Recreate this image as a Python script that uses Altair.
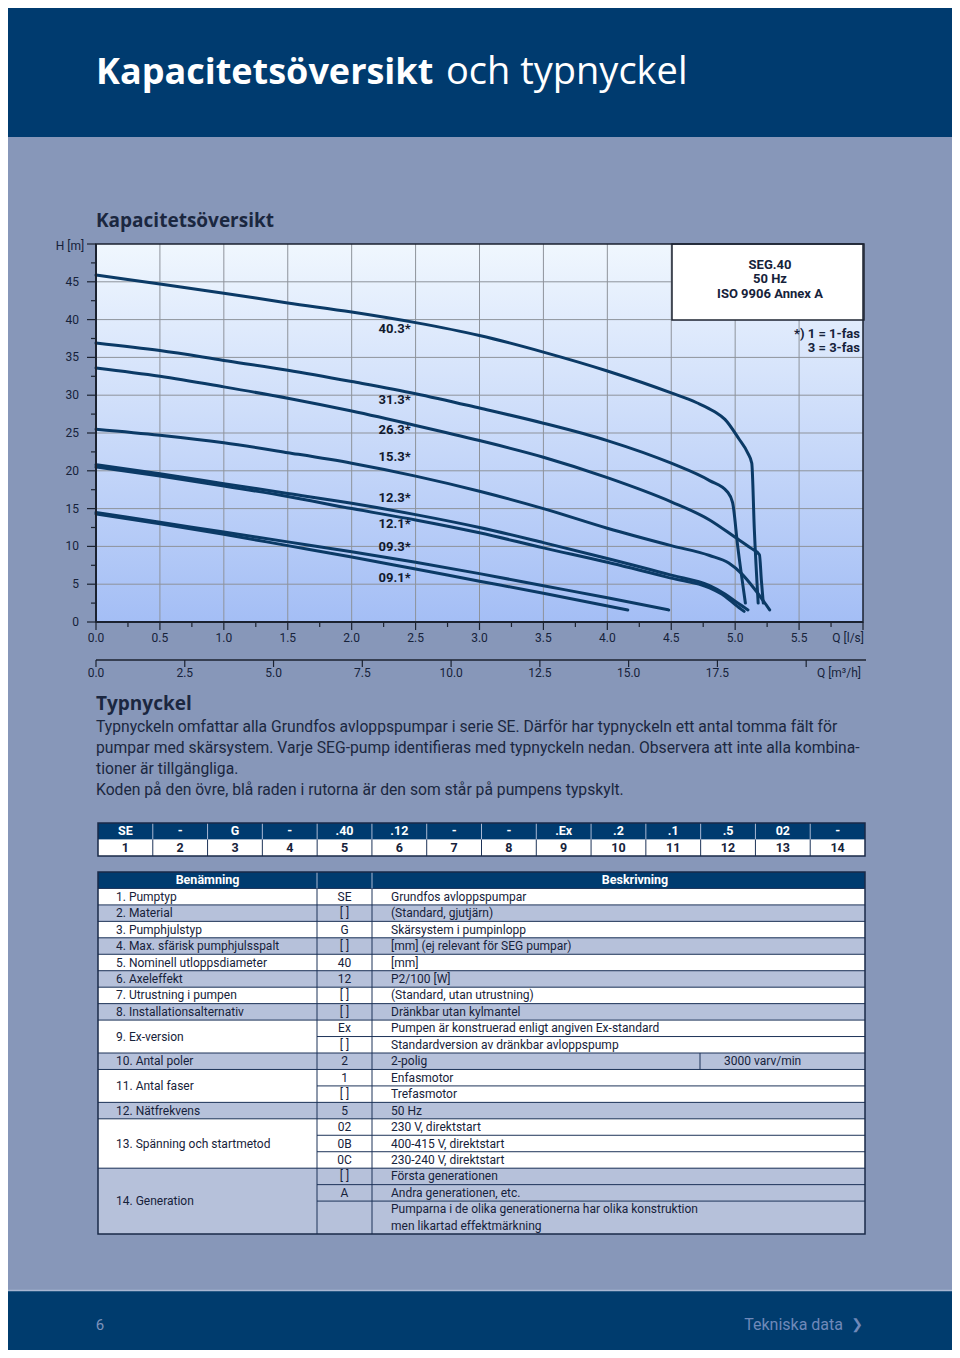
import altair as alt
import pandas as pd

# ---------------- data ----------------
CURVE_LABELS = ["40.3*", "31.3*", "26.3*", "15.3*", "12.3*", "12.1*", "09.3*", "09.1*"]

Q_403 = [0.0, 0.5, 1.0, 1.5, 2.0, 2.5, 3.0, 3.5, 4.0, 4.5, 4.7, 4.84, 4.92, 5.03, 5.10, 5.13, 5.15, 5.18]
H_403 = [45.9, 44.7, 43.5, 42.2, 41.0, 39.6, 37.9, 35.7, 33.2, 30.3, 29.0, 27.8, 26.8, 24.2, 22.3, 21.0, 12.2, 2.5]

Q_313 = [0.0, 0.5, 1.0, 1.5, 2.0, 2.5, 3.0, 3.5, 4.0, 4.5, 4.8, 4.94, 4.98, 5.02, 5.08]
H_313 = [36.9, 35.9, 34.6, 33.3, 31.8, 30.2, 28.3, 26.3, 24.0, 21.0, 18.7, 17.2, 15.8, 10.0, 2.5]

Q_263 = [0.0, 0.5, 1.0, 1.5, 2.0, 2.5, 3.0, 3.5, 4.0, 4.5, 4.8, 5.0, 5.12, 5.19, 5.205, 5.22]
H_263 = [33.6, 32.5, 31.1, 29.6, 27.9, 26.0, 24.0, 21.8, 19.1, 15.9, 13.5, 11.2, 9.8, 8.9, 5.5, 2.5]

Q_153 = [0.0, 0.5, 1.0, 1.5, 2.0, 2.5, 3.0, 3.5, 4.0, 4.5, 4.8, 4.95, 5.05, 5.15, 5.27]
H_153 = [25.5, 24.7, 23.7, 22.4, 21.0, 19.3, 17.3, 15.0, 12.4, 10.1, 8.8, 7.8, 6.4, 4.4, 1.6]

Q_123 = [0.0, 0.5, 1.0, 1.5, 2.0, 2.5, 3.0, 3.5, 4.0, 4.5, 4.8, 4.92, 5.02, 5.10]
H_123 = [20.8, 19.6, 18.3, 17.0, 15.7, 14.2, 12.5, 10.5, 8.4, 6.2, 4.8, 3.7, 2.5, 1.6]

Q_121 = [0.0, 0.5, 1.0, 1.5, 2.0, 2.5, 3.0, 3.5, 4.0, 4.5, 4.8, 4.92, 5.0, 5.07]
H_121 = [20.5, 19.3, 18.0, 16.6, 15.0, 13.5, 11.8, 9.8, 7.9, 5.8, 4.5, 3.4, 2.3, 1.4]

Q_093 = [0.0, 0.5, 1.0, 1.5, 2.0, 2.5, 3.0, 3.5, 4.0, 4.48]
H_093 = [14.5, 13.2, 11.9, 10.6, 9.3, 7.9, 6.4, 4.8, 3.2, 1.6]

Q_091 = [0.0, 0.5, 1.0, 1.5, 2.0, 2.5, 3.0, 3.5, 4.16]
H_091 = [14.3, 13.0, 11.6, 10.1, 8.6, 7.0, 5.4, 3.8, 1.6]

CURVES_Q = [Q_403, Q_313, Q_263, Q_153, Q_123, Q_121, Q_093, Q_091]
CURVES_H = [H_403, H_313, H_263, H_153, H_123, H_121, H_093, H_091]

LABEL_Q = [2.21, 2.21, 2.21, 2.21, 2.21, 2.21, 2.21, 2.21]
LABEL_H = [38.8, 29.4, 25.4, 21.8, 16.4, 12.95, 9.9, 5.8]

H_MAJOR = [0, 5, 10, 15, 20, 25, 30, 35, 40, 45, 50]
H_MINOR = [2.5, 7.5, 12.5, 17.5, 22.5, 27.5, 32.5, 37.5, 42.5, 47.5]
H_LABELS = ["0", "5", "10", "15", "20", "25", "30", "35", "40", "45"]
Q_MAJOR = [0.0, 0.5, 1.0, 1.5, 2.0, 2.5, 3.0, 3.5, 4.0, 4.5, 5.0, 5.5, 6.0]
Q_MINOR = [0.25, 0.75, 1.25, 1.75, 2.25, 2.75, 3.25, 3.75, 4.25, 4.75, 5.25, 5.75]
Q_LABELS = ["0.0", "0.5", "1.0", "1.5", "2.0", "2.5", "3.0", "3.5", "4.0", "4.5", "5.0", "5.5"]
M_MAJOR = [0.0, 2.5, 5.0, 7.5, 10.0, 12.5, 15.0, 17.5, 20.0]
M_LABELS = ["0.0", "2.5", "5.0", "7.5", "10.0", "12.5", "15.0", "17.5"]
GRID_Q = [0.5, 1.0, 1.5, 2.0, 2.5, 3.0, 3.5, 4.0, 4.5, 5.0, 5.5]
GRID_H = [5, 10, 15, 20, 25, 30, 35, 40, 45]

LEGEND_LINES = ["SEG.40", "50 Hz", "ISO 9906 Annex A"]
NOTE_LINES = ["*) 1 = 1-fas", "3 = 3-fas"]

PARAGRAPH = [
    "Typnyckeln omfattar alla Grundfos avloppspumpar i serie SE. Därför har typnyckeln ett antal tomma fält för",
    "pumpar med skärsystem. Varje SEG-pump identifieras med typnyckeln nedan. Observera att inte alla kombina-",
    "tioner är tillgängliga.",
    "Koden på den övre, blå raden i rutorna är den som står på pumpens typskylt.",
]

KEY_CODES = ["SE", "-", "G", "-", ".40", ".12", "-", "-", ".Ex", ".2", ".1", ".5", "02", "-"]
KEY_NUMS = ["1", "2", "3", "4", "5", "6", "7", "8", "9", "10", "11", "12", "13", "14"]

ROW_NAMES = ["1. Pumptyp", "2. Material", "3. Pumphjulstyp", "4. Max. sfärisk pumphjulsspalt",
             "5. Nominell utloppsdiameter", "6. Axeleffekt", "7. Utrustning i pumpen",
             "8. Installationsalternativ", "9. Ex-version", "10. Antal poler", "11. Antal faser",
             "12. Nätfrekvens", "13. Spänning och startmetod", "14. Generation"]
ROW_CODES = [["SE"], ["[ ]"], ["G"], ["[ ]"], ["40"], ["12"], ["[ ]"], ["[ ]"], ["Ex", "[ ]"], ["2"],
             ["1", "[ ]"], ["5"], ["02", "0B", "0C"], ["[ ]", "A", ""]]
ROW_DESCS = [["Grundfos avloppspumpar"], ["(Standard, gjutjärn)"], ["Skärsystem i pumpinlopp"],
             ["[mm] (ej relevant för SEG pumpar)"], ["[mm]"], ["P2/100 [W]"],
             ["(Standard, utan utrustning)"], ["Dränkbar utan kylmantel"],
             ["Pumpen är konstruerad enligt angiven Ex-standard", "Standardversion av dränkbar avloppspump"],
             ["2-polig"], ["Enfasmotor", "Trefasmotor"], ["50 Hz"],
             ["230 V, direktstart", "400-415 V, direktstart", "230-240 V, direktstart"],
             ["Första generationen", "Andra generationen, etc.",
              "Pumparna i de olika generationerna har olika konstruktion\nmen likartad effektmärkning"]]
ROW_EXTRA = ["", "", "", "", "", "", "", "", "", "3000 varv/min", "", "", "", ""]

# ---------------- layout / style ----------------
W, HT = 944, 1342
OFF = 8


def P(v):
    return v - OFF


NAVY = "#003b6f"
PAGE_BG = "#8797b9"
GREY_ROW = "#b6c1da"
TXT = "#16223a"
LINE_DARK = "#1d3358"
CURVE = "#0b3a66"
FONT_H = "Open Sans"
FONT_C = "Roboto, sans-serif"

PAGE_X = alt.Scale(domain=[OFF, W + OFF], range=[0, W], nice=False, zero=False)
PAGE_Y = alt.Scale(domain=[OFF, HT + OFF], range=[0, HT], nice=False, zero=False)
QX = alt.Scale(domain=[0, 6], range=[P(96), P(863)], nice=False, zero=False)
HY = alt.Scale(domain=[0, 50], range=[P(622), P(244)], nice=False, zero=False)
MX = alt.Scale(domain=[0, 21.6], range=[P(96), P(863)], nice=False, zero=False)

ONE = pd.DataFrame({"a": [0]})


def px(f):
    return alt.X(f, type="quantitative", scale=PAGE_X, axis=None)


def py(f):
    return alt.Y(f, type="quantitative", scale=PAGE_Y, axis=None)


def qx(f):
    return alt.X(f, type="quantitative", scale=QX, axis=None)


def hy(f):
    return alt.Y(f, type="quantitative", scale=HY, axis=None)


def mx(f):
    return alt.X(f, type="quantitative", scale=MX, axis=None)


def rect_v(x0, x1, y0, y1, **kw):
    return alt.Chart(ONE).mark_rect(**kw).encode(
        x=alt.value(P(x0)), x2=alt.value(P(x1)), y=alt.value(P(y0)), y2=alt.value(P(y1)))


def text_v(t, x, y, **kw):
    return alt.Chart(pd.DataFrame({"t": [t]})).mark_text(**kw).encode(
        x=alt.value(P(x)), y=alt.value(P(y)), text="t:N")


layers = []

# header band and title
layers.append(rect_v(0, W + OFF, 0, 137, color=NAVY))
layers.append(text_v("Kapacitetsöversikt", 96, 84, font=FONT_H, fontSize=36, fontWeight="bold",
                     color="white", align="left", baseline="alphabetic"))
layers.append(text_v("och typnyckel", 446, 84, font=FONT_H, fontSize=38, fontWeight="normal",
                     color="white", align="left", baseline="alphabetic"))

# section title
layers.append(text_v("Kapacitetsöversikt", 96, 221, font=FONT_H, fontSize=19, fontWeight="bold",
                     color="#1b2740", align="left", baseline="middle"))

# plot background gradient
bg = pd.DataFrame({"q0": [0.0], "q1": [6.0], "h0": [0.0], "h1": [50.0]})
grad = alt.LinearGradient(gradient="linear",
                          stops=[alt.GradientStop(color="#f0f7fe", offset=0),
                                 alt.GradientStop(color="#a4bef5", offset=1)],
                          x1=0, x2=0, y1=0, y2=1)
layers.append(alt.Chart(bg).mark_rect(fill=grad).encode(
    x=qx("q0"), x2="q1", y=hy("h1"), y2="h0"))

# grid
layers.append(alt.Chart(pd.DataFrame({"q": GRID_Q, "h0": 0.0, "h1": 50.0})).mark_rule(
    color="#8e939b", strokeWidth=1).encode(x=qx("q"), y=hy("h0"), y2="h1"))
layers.append(alt.Chart(pd.DataFrame({"h": GRID_H, "q0": 0.0, "q1": 6.0})).mark_rule(
    color="#8e939b", strokeWidth=1).encode(y=hy("h"), x=qx("q0"), x2="q1"))

# legend box
layers.append(rect_v(672, 864, 244, 320, fill="white", stroke="#1f2633", strokeWidth=1.5))
leg = pd.DataFrame({"t": LEGEND_LINES, "y": [265, 279, 294]})
layers.append(alt.Chart(leg).mark_text(font=FONT_C, fontSize=13, fontWeight="bold", color=TXT,
                                       align="center", baseline="middle").encode(
    x=alt.value(P(770)), y=py("y"), text="t:N"))
note = pd.DataFrame({"t": NOTE_LINES, "y": [334, 348]})
layers.append(alt.Chart(note).mark_text(font=FONT_C, fontSize=13, fontWeight="bold", color=TXT,
                                        align="right", baseline="middle").encode(
    x=alt.value(P(860)), y=py("y"), text="t:N"))

# curves
curve_df = pd.concat([
    pd.DataFrame({"q": q, "h": h, "c": name, "i": list(range(len(q)))})
    for name, q, h in zip(CURVE_LABELS, CURVES_Q, CURVES_H)
], ignore_index=True)
layers.append(alt.Chart(curve_df).mark_line(color=CURVE, strokeWidth=3, strokeCap="round",
                                            strokeJoin="round", interpolate="monotone").encode(
    x=qx("q"), y=hy("h"), detail="c:N", order="i:Q"))

# curve labels
lab = pd.DataFrame({"q": LABEL_Q, "h": LABEL_H, "t": CURVE_LABELS})
layers.append(alt.Chart(lab).mark_text(font=FONT_C, fontSize=13, fontWeight="bold", color="#111a2e",
                                       align="left", baseline="middle").encode(
    x=qx("q"), y=hy("h"), text="t:N"))

# plot frame
layers.append(alt.Chart(bg).mark_rect(fill=None, fillOpacity=0, stroke="#1b2230", strokeWidth=1.5).encode(
    x=qx("q0"), x2="q1", y=hy("h1"), y2="h0"))
layers.append(alt.Chart(bg).mark_rule(color="#1b2230", strokeWidth=2).encode(
    x=qx("q0"), y=hy("h0"), y2="h1"))
layers.append(alt.Chart(bg).mark_rule(color="#1b2230", strokeWidth=2).encode(
    x=qx("q0"), x2="q1", y=hy("h0")))

# y axis ticks / labels
layers.append(alt.Chart(pd.DataFrame({"h": H_MAJOR})).mark_rule(color="#1b2230", strokeWidth=1.2).encode(
    y=hy("h"), x=alt.value(P(87)), x2=alt.value(P(96))))
layers.append(alt.Chart(pd.DataFrame({"h": H_MINOR})).mark_rule(color="#1b2230", strokeWidth=1.2).encode(
    y=hy("h"), x=alt.value(P(91)), x2=alt.value(P(96))))
layers.append(alt.Chart(pd.DataFrame({"h": H_MAJOR[:10], "t": H_LABELS})).mark_text(
    font=FONT_C, fontSize=12, color=TXT, align="right", baseline="middle").encode(
    y=hy("h"), x=alt.value(P(79)), text="t:N"))
layers.append(text_v("H [m]", 70, 246, font=FONT_C, fontSize=12, color=TXT, align="center", baseline="middle"))

# x axis (l/s)
layers.append(alt.Chart(pd.DataFrame({"q": Q_MAJOR})).mark_rule(color="#1b2230", strokeWidth=1.2).encode(
    x=qx("q"), y=alt.value(P(622)), y2=alt.value(P(630))))
layers.append(alt.Chart(pd.DataFrame({"q": Q_MINOR})).mark_rule(color="#1b2230", strokeWidth=1.2).encode(
    x=qx("q"), y=alt.value(P(622)), y2=alt.value(P(627))))
layers.append(alt.Chart(pd.DataFrame({"q": Q_MAJOR[:12], "t": Q_LABELS})).mark_text(
    font=FONT_C, fontSize=12, color=TXT, align="center", baseline="middle").encode(
    x=qx("q"), y=alt.value(P(638)), text="t:N"))
layers.append(text_v("Q [l/s]", 864, 638, font=FONT_C, fontSize=12, color=TXT, align="right", baseline="middle"))

# second axis (m3/h)
layers.append(alt.Chart(ONE).mark_rule(color="#1b2230", strokeWidth=1.5).encode(
    x=alt.value(P(96)), x2=alt.value(P(866)), y=alt.value(P(660))))
layers.append(alt.Chart(pd.DataFrame({"m": M_MAJOR})).mark_rule(color="#1b2230", strokeWidth=1.2).encode(
    x=mx("m"), y=alt.value(P(660)), y2=alt.value(P(667))))
layers.append(alt.Chart(pd.DataFrame({"m": M_MAJOR[:8], "t": M_LABELS})).mark_text(
    font=FONT_C, fontSize=12, color=TXT, align="center", baseline="middle").encode(
    x=mx("m"), y=alt.value(P(673)), text="t:N"))
layers.append(text_v("Q [m³/h]", 861, 673, font=FONT_C, fontSize=12, color=TXT, align="right", baseline="middle"))

# Typnyckel text
layers.append(text_v("Typnyckel", 96, 704, font=FONT_H, fontSize=19, fontWeight="bold",
                     color="#1b2740", align="left", baseline="middle"))
para = pd.DataFrame({"t": PARAGRAPH, "y": [727, 748, 769, 790]})
layers.append(alt.Chart(para).mark_text(font=FONT_C, fontSize=15.7, color="#1b2740",
                                        align="left", baseline="middle").encode(
    x=alt.value(P(96)), y=py("y"), text="t:N"))

# ---- key table ----
KX0, KX1, KY0, KYM, KY1 = 98, 865, 823, 839.5, 856
cw = (KX1 - KX0) / 14
kt = pd.DataFrame({
    "x0": [KX0 + i * cw for i in range(14)],
    "x1": [KX0 + (i + 1) * cw for i in range(14)],
    "xc": [KX0 + (i + 0.5) * cw for i in range(14)],
    "code": KEY_CODES, "num": KEY_NUMS,
})
layers.append(rect_v(KX0, KX1, KY0, KYM, color=NAVY))
layers.append(rect_v(KX0, KX1, KYM, KY1, color="white"))
sep = kt.iloc[1:].copy()
sep["ya"], sep["yb"], sep["yc"] = KY0, KYM, KY1
layers.append(alt.Chart(sep).mark_rule(color="#a8b8d4", strokeWidth=1).encode(
    x=px("x0"), y=py("ya"), y2="yb"))
layers.append(alt.Chart(sep).mark_rule(color=LINE_DARK, strokeWidth=1).encode(
    x=px("x0"), y=py("yb"), y2="yc"))
layers.append(rect_v(KX0, KX1, KY0, KY1, fill=None, fillOpacity=0, stroke="#1a2a48", strokeWidth=1.5))
kt["ya"] = (KY0 + KYM) / 2
kt["yb"] = (KYM + KY1) / 2
layers.append(alt.Chart(kt).mark_text(font=FONT_C, fontSize=12.5, fontWeight="bold", color="white",
                                      align="center", baseline="middle").encode(
    x=px("xc"), y=py("ya"), text="code:N"))
layers.append(alt.Chart(kt).mark_text(font=FONT_C, fontSize=12.5, fontWeight="bold", color=TXT,
                                      align="center", baseline="middle").encode(
    x=px("xc"), y=py("yb"), text="num:N"))

# ---- description table ----
TX0, TC1, TC2, TX1 = 98, 317, 372, 865
TY0, TY1 = 872, 1234
UNIT = (TY1 - TY0) / 22
groups, subrows, hlines_full, hlines_part, extras = [], [], [], [], []
u = 1
for gi, (name, codes, descs, extra) in enumerate(zip(ROW_NAMES, ROW_CODES, ROW_DESCS, ROW_EXTRA)):
    g0 = u
    for si, (c, d) in enumerate(zip(codes, descs)):
        hgt = 2 if "\n" in d else 1
        if si > 0:
            hlines_part.append(TY0 + u * UNIT)
        # first text line sits in the middle of the first unit of the sub-row
        subrows.append({"code": c, "desc": d, "y": TY0 + (u + 0.5) * UNIT})
        u += hgt
    groups.append({"name": name, "y0": TY0 + g0 * UNIT, "y1": TY0 + u * UNIT,
                   "yc": TY0 + (g0 + u) / 2 * UNIT,
                   "fill": "white" if gi % 2 == 0 else GREY_ROW})
    hlines_full.append(TY0 + g0 * UNIT)
    if extra:
        extras.append({"t": extra, "y0": TY0 + g0 * UNIT, "y1": TY0 + u * UNIT,
                       "yc": TY0 + (g0 + u) / 2 * UNIT})

gdf = pd.DataFrame(groups)
gdf["x0"], gdf["x1"] = TX0, TX1
sdf = pd.DataFrame(subrows)
edf = pd.DataFrame(extras)

FS_T = 12
layers.append(rect_v(TX0, TX1, TY0, TY0 + UNIT, color=NAVY))
layers.append(alt.Chart(gdf).mark_rect().encode(
    x=px("x0"), x2="x1", y=py("y0"), y2="y1", color=alt.Color("fill:N", scale=None)))
hf = pd.DataFrame({"y": hlines_full, "x0": TX0, "x1": TX1})
layers.append(alt.Chart(hf).mark_rule(color=LINE_DARK, strokeWidth=1).encode(
    y=py("y"), x=px("x0"), x2="x1"))
hp = pd.DataFrame({"y": hlines_part, "x0": TC1, "x1": TX1})
layers.append(alt.Chart(hp).mark_rule(color=LINE_DARK, strokeWidth=1).encode(
    y=py("y"), x=px("x0"), x2="x1"))
vl = pd.DataFrame({"x": [TC1, TC2], "y0": TY0 + UNIT, "y1": TY1, "yh": TY0})
layers.append(alt.Chart(vl).mark_rule(color=LINE_DARK, strokeWidth=1).encode(
    x=px("x"), y=py("y0"), y2="y1"))
layers.append(alt.Chart(vl).mark_rule(color="#a8b8d4", strokeWidth=1).encode(
    x=px("x"), y=py("yh"), y2="y0"))
edf["x"] = 700
layers.append(alt.Chart(edf).mark_rule(color=LINE_DARK, strokeWidth=1).encode(
    x=px("x"), y=py("y0"), y2="y1"))
layers.append(rect_v(TX0, TX1, TY0, TY1, fill=None, fillOpacity=0, stroke="#1a2a48", strokeWidth=1.5))

layers.append(text_v("Benämning", 207.5, TY0 + UNIT / 2, font=FONT_C, fontSize=12.5, fontWeight="bold",
                     color="white", align="center", baseline="middle"))
layers.append(text_v("Beskrivning", 635, TY0 + UNIT / 2, font=FONT_C, fontSize=12.5, fontWeight="bold",
                     color="white", align="center", baseline="middle"))
layers.append(alt.Chart(gdf).mark_text(font=FONT_C, fontSize=FS_T, color=TXT, align="left",
                                       baseline="middle").encode(
    x=alt.value(P(116)), y=py("yc"), text="name:N"))
layers.append(alt.Chart(sdf).mark_text(font=FONT_C, fontSize=FS_T, color=TXT, align="center",
                                       baseline="middle").encode(
    x=alt.value(P(344.5)), y=py("y"), text="code:N"))
layers.append(alt.Chart(sdf).mark_text(font=FONT_C, fontSize=FS_T, color=TXT, align="left",
                                       baseline="middle", lineBreak="\n", lineHeight=UNIT).encode(
    x=alt.value(P(391)), y=py("y"), text="desc:N"))
layers.append(alt.Chart(edf).mark_text(font=FONT_C, fontSize=FS_T, color=TXT, align="left",
                                       baseline="middle").encode(
    x=alt.value(P(724)), y=py("yc"), text="t:N"))

# ---- footer ----
layers.append(rect_v(0, W + OFF, 1291, HT + OFF, color="#003c6e"))
layers.append(alt.Chart(ONE).mark_rule(color="#a7b6d2", strokeWidth=1.5).encode(
    x=alt.value(0), x2=alt.value(W), y=alt.value(P(1290.5))))
layers.append(text_v("6", 100, 1325, font=FONT_C, fontSize=15, color="#7d92bb", align="center",
                     baseline="middle"))
layers.append(text_v("Tekniska data", 843, 1325, font=FONT_C, fontSize=16, color="#6f89b9",
                     align="right", baseline="middle"))
layers.append(text_v("❯", 857, 1325, font="DejaVu Sans", fontSize=14, fontWeight="bold",
                     color="#6f89b9", align="center", baseline="middle"))

chart = alt.layer(*layers).resolve_scale(x="independent", y="independent").properties(
    width=W, height=HT, background=PAGE_BG, padding=0,
    autosize=alt.AutoSizeParams(type="none"),
).configure_view(stroke=None)

chart.save("out.html", embed_options={"renderer": "svg", "actions": False})
